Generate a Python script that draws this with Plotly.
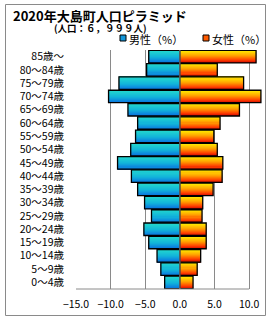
import plotly.graph_objects as go

age_groups = ["0〜4歳", "5〜9歳", "10〜14歳", "15〜19歳", "20〜24歳", "25〜29歳",
              "30〜34歳", "35〜39歳", "40〜44歳", "45〜49歳", "50〜54歳", "55〜59歳",
              "60〜64歳", "65〜69歳", "70〜74歳", "75〜79歳", "80〜84歳", "85歳〜"]
male_pct = [2.2, 2.75, 3.3, 4.5, 5.2, 4.1, 5.1, 6.1, 7.0, 9.0, 7.1, 6.4,
            6.1, 7.5, 10.3, 8.8, 4.8, 4.5]
female_pct = [1.9, 2.5, 3.0, 3.8, 3.8, 3.2, 3.3, 4.8, 6.1, 6.2, 5.4, 4.9,
              5.8, 8.6, 11.7, 9.2, 5.4, 11.0]
x_ticks = [-15, -10, -5, 0, 5, 10]

W, H = 270, 320
L, R, T, B = 76, 7, 50, 31
PW, PH = W - L - R, H - T - B


def px(xp):
    return (xp - L) / PW


def py(yp):
    return (H - B - yp) / PH


def lerp(stops, t):
    for (t0, c0), (t1, c1) in zip(stops, stops[1:]):
        if t0 <= t <= t1:
            f = (t - t0) / (t1 - t0) if t1 > t0 else 0
            c = [round(a + (b - a) * f) for a, b in zip(c0, c1)]
            return "rgb(%d,%d,%d)" % tuple(c)
    return "rgb(%d,%d,%d)" % tuple(stops[-1][1])


male_stops = [(0.0, (34, 214, 206)), (0.5, (18, 180, 218)), (1.0, (8, 108, 224))]
female_stops = [(0.0, (255, 232, 0)), (0.4, (255, 160, 0)), (0.75, (255, 64, 0)), (1.0, (205, 0, 0))]

fig = go.Figure()
w = 0.94
K = 12
for vals, stops, sign in [(male_pct, male_stops, -1), (female_pct, female_stops, 1)]:
    xs = [sign * v for v in vals]
    for i in range(K):
        t = 1 - (i + 0.5) / K
        fig.add_trace(go.Bar(
            y=age_groups, x=xs, orientation="h",
            width=w / K, offset=-w / 2 + i * w / K,
            marker=dict(color=lerp(stops, t), line=dict(width=0)),
            showlegend=False, hoverinfo="skip"))
    fig.add_trace(go.Bar(
        y=age_groups, x=xs, orientation="h", width=w,
        marker=dict(color="rgba(0,0,0,0)", line=dict(color="black", width=1.3)),
        showlegend=False, hoverinfo="skip"))

font = "Noto Sans CJK JP"
fig.update_layout(
    width=W, height=H, margin=dict(l=L, r=R, t=T, b=B),
    paper_bgcolor="white", plot_bgcolor="white",
    barmode="overlay", showlegend=False,
    font=dict(family=font, color="black"),
    xaxis=dict(range=[-15, 12], tickvals=x_ticks, tickformat=".1f",
               showgrid=True, gridcolor="#8a8a8a", gridwidth=1,
               zeroline=False, showline=False, ticks="",
               tickfont=dict(size=10.5, family=font), ticklabelstandoff=7,
               fixedrange=True),
    yaxis=dict(categoryorder="array", categoryarray=age_groups,
               range=[-0.5, len(age_groups) - 0.5],
               showgrid=False, zeroline=False, showline=False, ticks="",
               tickfont=dict(size=10.5, family=font), ticklabelstandoff=11,
               fixedrange=True),
)

shapes = [
    dict(type="line", xref="x", yref="paper", x0=0, x1=0, y0=0, y1=1,
         line=dict(color="#8a8a8a", width=1), layer="above"),
    dict(type="line", xref="x", yref="paper", x0=-15, x1=10, y0=0, y1=0,
         line=dict(color="#8a8a8a", width=1), layer="above"),
    dict(type="rect", xref="paper", yref="paper", x0=px(5.5), x1=px(265.5),
         y0=py(315.5), y1=py(4.5), line=dict(color="#8a8a8a", width=1), layer="below"),
    dict(type="rect", xref="paper", yref="paper", x0=px(120), x1=px(126),
         y0=py(41), y1=py(35), fillcolor="rgb(18,150,218)",
         line=dict(color="black", width=1)),
    dict(type="rect", xref="paper", yref="paper", x0=px(203), x1=px(209),
         y0=py(41), y1=py(35), fillcolor="rgb(255,90,0)",
         line=dict(color="black", width=1)),
]
fig.update_layout(shapes=shapes)

ann = [
    dict(text="<b>2020年大島町人口ピラミッド</b>", x=px(11), y=py(15), size=13),
    dict(text="<b>(人口：６，９９９人)</b>", x=px(52), y=py(28), size=9.5),
    dict(text="男性（%）", x=px(127), y=py(38.5), size=11),
    dict(text="女性（%）", x=px(210), y=py(38.5), size=11),
]
for a in ann:
    fig.add_annotation(text=a["text"], x=a["x"], y=a["y"], xref="paper", yref="paper",
                       xanchor="left", yanchor="middle", showarrow=False,
                       font=dict(size=a["size"], family=font, color="black"))

fig.write_html("out.html")
